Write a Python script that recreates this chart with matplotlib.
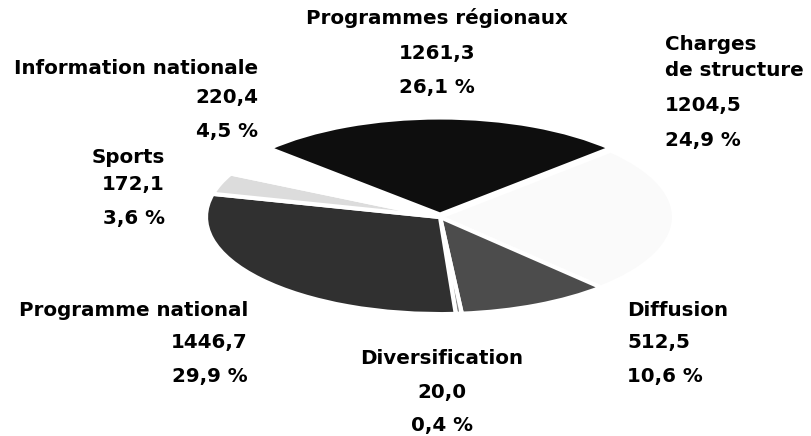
import matplotlib.pyplot as plt

# Budget par poste (millions) et parts
postes = ['Programmes régionaux', 'Charges de structure', 'Diffusion', 'Diversification',
          'Programme national', 'Sports', 'Information nationale']
montants = [1261.3, 1204.5, 512.5, 20.0, 1446.7, 172.1, 220.4]
parts = [26.1, 24.9, 10.6, 0.4, 29.9, 3.6, 4.5]

couleurs = ['#0e0e0e', '#fafafa', '#4c4c4c', '#8a8a8a', '#303030', '#dcdcdc', '#ffffff']

# lignes de texte de chaque etiquette (le libelle peut etre sur 2 lignes)
lignes_libelle = [['Programmes régionaux'], ['Charges', 'de structure'], ['Diffusion'],
                  ['Diversification'], ['Programme national'], ['Sports'],
                  ['Information nationale']]

# placement des etiquettes en pixels : (x, alignement, [y des lignes])
placement = [
    (437, 'center', [18, 53, 88]),
    (665, 'left', [44, 70, 105, 140]),
    (627, 'left', [310, 342, 376]),
    (442, 'center', [358, 392, 425]),
    (248, 'right', [310, 342, 376]),
    (165, 'right', [157, 184, 218]),
    (258, 'right', [68, 97, 131]),
]

W, H = 811, 436
fig = plt.figure(figsize=(W / 100, H / 100), dpi=100)

# camembert aplati (vue en perspective) : centre (440,217), demi-axes 241 x 100 px
cx, cy, a, b = 440, 217, 241, 100
ax = fig.add_axes([(cx - a) / W, (H - cy - b) / H, 2 * a / W, 2 * b / H])
ax.pie(montants, colors=couleurs, startangle=137, counterclock=False,
       explode=[0.025, 0, 0, 0, 0, 0, 0],
       wedgeprops=dict(edgecolor='white', linewidth=3))
ax.set_aspect('auto')
ax.set_xlim(-1.03, 1.03)
ax.set_ylim(-1.03, 1.03)
ax.axis('off')

# calque texte en coordonnees pixel
tx = fig.add_axes([0, 0, 1, 1])
tx.set_xlim(0, W)
tx.set_ylim(H, 0)
tx.axis('off')

def fr(v):
    return f'{v:.1f}'.replace('.', ',')

for lib, m, p, (x, ha, ys) in zip(lignes_libelle, montants, parts, placement):
    lignes = lib + [fr(m), fr(p) + ' %']
    for ligne, y in zip(lignes, ys):
        tx.text(x, y, ligne, ha=ha, va='center', fontsize=14.3,
                fontweight='heavy', family='DejaVu Sans', color='black')

fig.savefig('out.png', dpi=100)
